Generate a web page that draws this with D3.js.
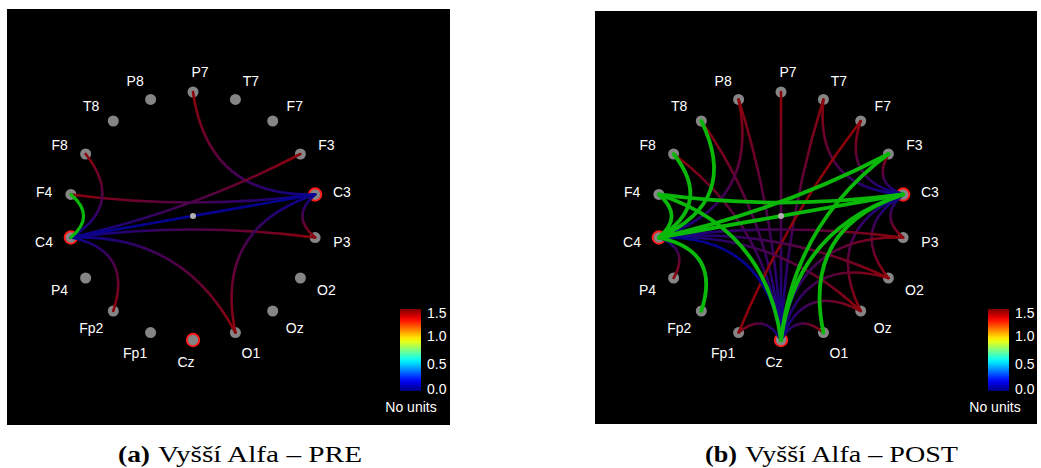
<!DOCTYPE html>
<html>
<head>
<meta charset="utf-8">
<script src="https://cdn.jsdelivr.net/npm/d3@7"></script>
<style>
  body { margin: 0; background: #fff; }
  svg { display: block; }
</style>
</head>
<body>
<svg id="chart" width="1041" height="468"></svg>
<script>
// channels, clockwise from the top of the circle
const channels = ["P7", "T7", "F7", "F3", "C3", "P3", "O2", "Oz", "O1", "Cz",
                  "Fp1", "Fp2", "P4", "C4", "F4", "F8", "T8", "P8"];
const hubs = ["C3", "C4", "Cz"];

// [from, to, value]
const linksPre = [
  ["P7", "C3", 0.3], ["F3", "C4", 0.3], ["F4", "C3", 0.3], ["C4", "C3", 0.2],
  ["C4", "P3", 0.3], ["C3", "P3", 0.3], ["F8", "C4", 0.3], ["Fp2", "C4", 0.3],
  ["C4", "O1", 0.3], ["C3", "O1", 0.3], ["F4", "C4", 0.8]
];
const linksPost = [
  ["P7", "Cz", 0.3], ["T7", "Cz", 0.3], ["P8", "Cz", 0.3], ["T8", "Cz", 0.3],
  ["F8", "Cz", 0.3], ["T7", "C3", 0.3], ["F7", "C3", 0.3], ["F7", "Fp1", 0.3],
  ["F3", "C3", 0.3], ["C3", "P3", 0.3], ["C3", "O2", 0.3], ["C3", "Oz", 0.3],
  ["P8", "C4", 0.3], ["C4", "P4", 0.3], ["C4", "P3", 0.3], ["C4", "O2", 0.3],
  ["C4", "Oz", 0.3], ["C4", "Cz", 0.2], ["Cz", "Fp1", 0.3], ["Cz", "O1", 0.3],
  ["Cz", "Oz", 0.3], ["Cz", "P3", 0.3], ["Cz", "O2", 0.3],
  ["T8", "C4", 0.8], ["F8", "C4", 0.8], ["F4", "C4", 0.8], ["F4", "C3", 0.8],
  ["F4", "Cz", 0.8], ["F3", "C4", 0.8], ["C4", "C3", 0.8], ["Fp2", "C4", 0.8],
  ["C3", "Cz", 0.8], ["F3", "Cz", 0.8], ["O1", "C3", 0.8]
];
const colorTicks = [0.0, 0.5, 1.0, 1.5];
const colorDomain = [0, 1.5];
const captionTags = ["(a)", "(b)"];
const captionTexts = ["Vyšší Alfa – PRE", "Vyšší Alfa – POST"];

const panels = [
  { x: 7, y: 9, w: 443, h: 416, links: linksPre, unitsX: 404 },
  { x: 595, y: 11, w: 442, h: 413, links: linksPost, unitsX: 400 }
];
const radius = 124;
const strongLink = 0.6;

const svg = d3.select("#chart");
const defs = svg.append("defs");

function jet(t) {
  const c = (v) => Math.max(0, Math.min(1, v));
  return d3.rgb(
    255 * c(1.5 - Math.abs(4 * t - 3)),
    255 * c(1.5 - Math.abs(4 * t - 2)),
    255 * c(1.5 - Math.abs(4 * t - 1))
  );
}
// link ends: hub channels take the low end of the map, others the high end
const endColor = (name) => {
  const c = hubs.includes(name) ? jet(0.03) : jet(0.97);
  return d3.interpolateRgb(c, "#2a1040")(0.15);
};

// colour bar gradient
const barGrad = defs.append("linearGradient")
  .attr("id", "jetbar").attr("x1", 0).attr("y1", 1).attr("x2", 0).attr("y2", 0);
d3.range(0, 1.0001, 0.05).forEach((t) => {
  barGrad.append("stop").attr("offset", t).attr("stop-color", jet(t).formatHex());
});

function drawPanel(p, pi) {
  const g = svg.append("g").attr("transform", `translate(${p.x},${p.y})`);
  g.append("rect").attr("width", p.w).attr("height", p.h).attr("fill", "#000");

  const cx = 186;
  const cy = 216 - p.y;
  const angle = d3.scaleLinear().domain([0, channels.length]).range([-Math.PI / 2, 1.5 * Math.PI]);
  const pos = {};
  channels.forEach((name, i) => {
    const a = angle(i);
    pos[name] = { x: cx + radius * Math.cos(a), y: cy + radius * Math.sin(a), a: a };
  });

  // nodes
  g.selectAll("circle.node")
    .data(channels)
    .join("circle")
    .attr("class", "node")
    .attr("cx", (d) => pos[d].x)
    .attr("cy", (d) => pos[d].y)
    .attr("r", (d) => (hubs.includes(d) ? 6.2 : 5.5))
    .attr("fill", "#858585")
    .attr("stroke", (d) => (hubs.includes(d) ? "#ff1a1a" : "none"))
    .attr("stroke-width", 2);

  // labels
  g.selectAll("text.lbl")
    .data(channels)
    .join("text")
    .attr("class", "lbl")
    .attr("x", (d) => {
      const a = pos[d].a;
      const c = Math.cos(a);
      const s = Math.sin(a);
      const sg = Math.abs(c) > 1e-6 ? Math.sign(c) : s < 0 ? 1 : -1;
      return cx + 150 * c + 7 * sg * Math.abs(s);
    })
    .attr("y", (d) => cy + 145 * Math.sin(pos[d].a) + 1)
    .attr("text-anchor", "middle")
    .attr("dominant-baseline", "central")
    .attr("fill", "#fff")
    .attr("font-family", "Liberation Sans, Arial, sans-serif")
    .attr("font-size", 14)
    .text((d) => d);

  // links
  const linkPath = (a, b) => {
    const mx = (a.x + b.x) / 2;
    const my = (a.y + b.y) / 2;
    const chord = Math.hypot(b.x - a.x, b.y - a.y);
    const k = Math.max(0.25, 1 - 0.6 * chord / radius);
    const path = d3.path();
    path.moveTo(a.x, a.y);
    path.quadraticCurveTo(cx + k * (mx - cx), cy + k * (my - cy), b.x, b.y);
    return path.toString();
  };

  const weak = p.links.filter((l) => l[2] < strongLink);
  const strong = p.links.filter((l) => l[2] >= strongLink);

  weak.forEach((l, i) => {
    const a = pos[l[0]];
    const b = pos[l[1]];
    const id = `lg${pi}_${i}`;
    const lg = defs.append("linearGradient")
      .attr("id", id)
      .attr("gradientUnits", "userSpaceOnUse")
      .attr("x1", a.x).attr("y1", a.y)
      .attr("x2", b.x).attr("y2", b.y);
    lg.append("stop").attr("offset", 0).attr("stop-color", endColor(l[0]));
    lg.append("stop").attr("offset", 1).attr("stop-color", endColor(l[1]));
    g.append("path")
      .attr("d", linkPath(a, b))
      .attr("fill", "none")
      .attr("stroke", `url(#${id})`)
      .attr("stroke-width", 2.6)
      .attr("stroke-linecap", "round");
  });

  g.selectAll("path.strong")
    .data(strong)
    .join("path")
    .attr("class", "strong")
    .attr("d", (l) => linkPath(pos[l[0]], pos[l[1]]))
    .attr("fill", "none")
    .attr("stroke", "#0ab80a")
    .attr("stroke-width", pi === 0 ? 3.2 : 3.8)
    .attr("stroke-linecap", "round");

  // centre marker
  g.append("circle").attr("cx", cx).attr("cy", cy).attr("r", 3).attr("fill", "#b0b0b0");

  // colour bar
  const barX = 393;
  const yScale = d3.scaleLinear().domain(colorDomain).range([391 - p.y, 309 - p.y]);
  g.append("rect")
    .attr("x", barX)
    .attr("y", yScale(colorDomain[1]))
    .attr("width", 21)
    .attr("height", yScale(colorDomain[0]) - yScale(colorDomain[1]))
    .attr("fill", "url(#jetbar)");
  g.selectAll("text.tick")
    .data(colorTicks)
    .join("text")
    .attr("class", "tick")
    .attr("x", barX + 27)
    .attr("y", (v) => Math.min(Math.max(yScale(v), 313 - p.y), 389 - p.y))
    .attr("dominant-baseline", "central")
    .attr("fill", "#fff")
    .attr("font-family", "Liberation Sans, Arial, sans-serif")
    .attr("font-size", 14)
    .text((v) => v.toFixed(1));
  g.append("text")
    .attr("x", p.unitsX)
    .attr("y", 407 - p.y)
    .attr("text-anchor", "middle")
    .attr("dominant-baseline", "central")
    .attr("fill", "#fff")
    .attr("font-family", "Liberation Sans, Arial, sans-serif")
    .attr("font-size", 14)
    .text("No units");

  // caption
  const capX = pi === 0 ? 118 : 705;
  svg.append("text")
    .attr("x", capX).attr("y", 462)
    .attr("font-family", "Liberation Serif, Times New Roman, serif")
    .attr("font-size", 24)
    .attr("font-weight", "bold")
    .attr("textLength", 32)
    .attr("lengthAdjust", "spacingAndGlyphs")
    .attr("fill", "#000")
    .text(captionTags[pi]);
  svg.append("text")
    .attr("x", capX + 40).attr("y", 462)
    .attr("font-family", "Liberation Serif, Times New Roman, serif")
    .attr("font-size", 24)
    .attr("textLength", pi === 0 ? 204 : 213)
    .attr("lengthAdjust", "spacingAndGlyphs")
    .attr("fill", "#000")
    .text(captionTexts[pi]);
}

panels.forEach(drawPanel);
</script>
</body>
</html>
